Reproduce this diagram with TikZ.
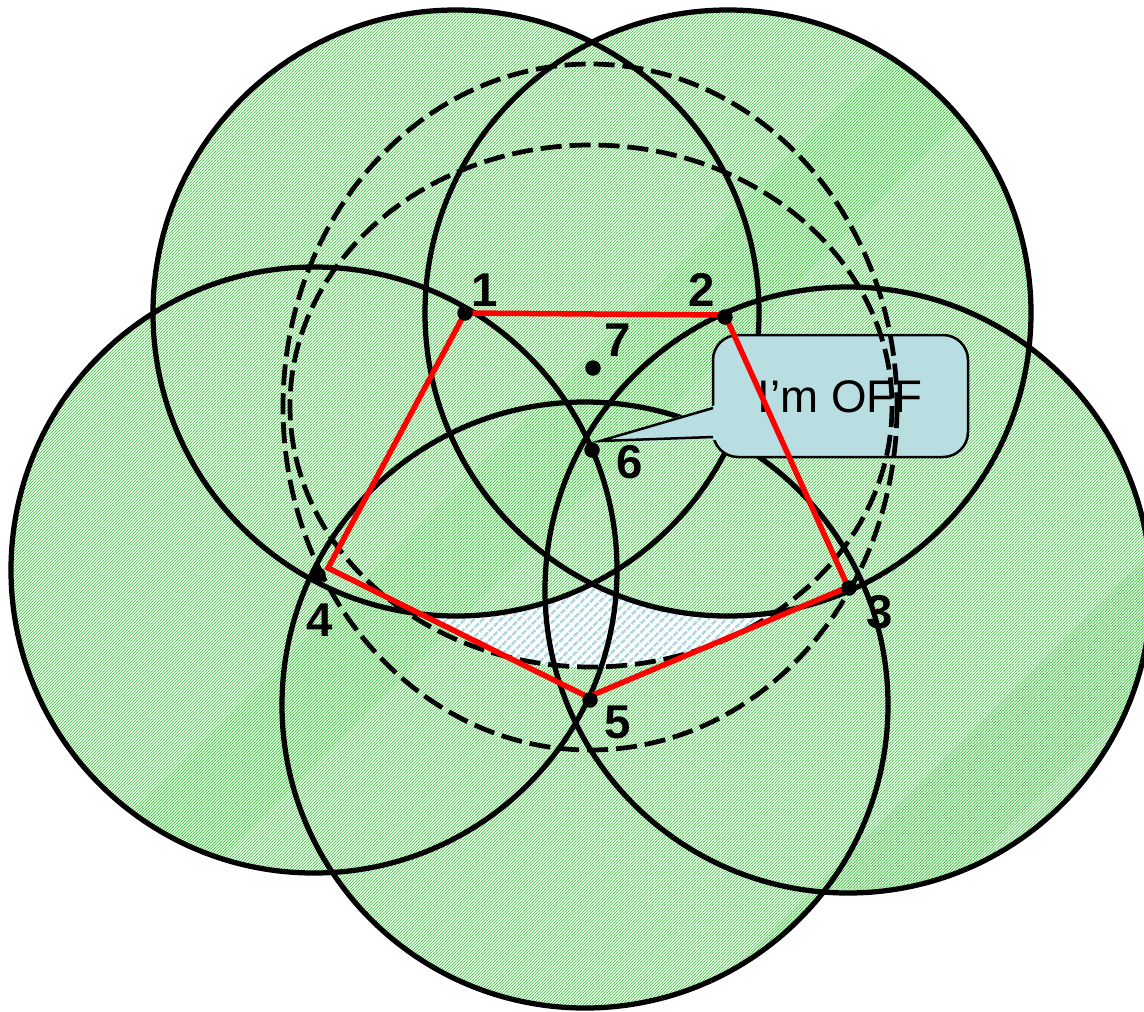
\documentclass[tikz,border=0pt]{standalone}
\usepackage{fontspec}
\setmainfont{Liberation Sans}
\usetikzlibrary{patterns.meta}
\definecolor{hatchgreen}{RGB}{60,202,60}
\definecolor{hatchblue}{RGB}{176,216,226}
\definecolor{calloutblue}{RGB}{184,222,226}
\begin{document}
\begin{tikzpicture}[x=0.02cm,y=-0.02cm,
  greenfill/.style={pattern={Lines[angle=45,distance=1.207pt,line width=0.42pt]},pattern color=hatchgreen},
  bluefill/.style={pattern={Lines[angle=45,distance=3.62pt,line width=1.6pt]},pattern color=hatchblue},
  ring/.style={draw=black,line width=0.105cm},
  dashring/.style={draw=black,line width=0.095cm,dash pattern=on 12pt off 4.5pt},
  redline/.style={draw=red,line width=0.11cm,line join=miter},
  sensor/.style={circle,fill=black,inner sep=0pt,minimum size=0.31cm},
  lbl/.style={font=\fontsize{27}{32}\selectfont\bfseries,inner sep=0pt},
]
\useasboundingbox (0,0) rectangle (1144,1012);
\fill[white] (0,0) rectangle (1144,1012);
\clip (0,0) rectangle (1144,1012);

% circle centres
\coordinate (c1) at (456,313);
\coordinate (c2) at (728,313);
\coordinate (c3) at (848,590);
\coordinate (c4) at (314,570);
\coordinate (c5) at (585,705);
\coordinate (ec) at (591,406);
% red pentagon corners
\coordinate (r1) at (465,313);
\coordinate (r2) at (725,315);
\coordinate (r3) at (848,587);
\coordinate (r4) at (328,568);
\coordinate (r5) at (588,697);

% green hatched coverage discs (union, hatched once)
\path[greenfill] (c1) circle[radius=303] (c2) circle[radius=303]
  (c3) circle[radius=303] (c4) circle[radius=303] (c5) circle[radius=303];

% blue hatched region
\begin{scope}
  \clip (ec) ellipse[x radius=301,y radius=261];
  \clip (r1) -- (r2) -- (r3) -- (r5) -- (r4) -- cycle;
  \fill[white] (c3) circle[radius=303] (c4) circle[radius=303] (c5) circle[radius=303];
  \path[bluefill] (0,0) rectangle (1144,1012);
  \fill[white] (c1) circle[radius=303] (c2) circle[radius=303];
  \path[greenfill] (c1) circle[radius=303] (c2) circle[radius=303];
\end{scope}

% disc borders
\foreach \c in {c1,c2,c3,c4,c5}
  \draw[ring] (\c) circle[radius=303];

% callout
\draw[line width=0.05cm,fill=calloutblue,rounded corners=0.5cm] (713,335) rectangle (968,457);
\fill[calloutblue] (716,405) -- (600,441) -- (716,440) -- cycle;
\draw[line width=0.05cm,line join=miter] (713,408) -- (600,441) -- (713,437);
\node[font=\fontsize{26}{31}\selectfont,inner sep=0pt] (off) at (840,397) {I’m OFF};

% dashed boundaries
\draw[dashring] (590,407) ellipse[x radius=307,y radius=343];
\draw[dashring] (ec) ellipse[x radius=301,y radius=261];

% red polygon
\draw[redline] (r1) -- (r2) -- (r3) -- (r5) -- (r4) -- cycle;

% sensor nodes
\node[sensor] (n1) at (465,313) {};
\node[sensor] (n2) at (725,317) {};
\node[sensor] (n3) at (849,588) {};
\node[sensor] (n4) at (318,575) {};
\node[sensor] (n5) at (590,700) {};
\node[sensor] (n6) at (592,450) {};
\node[sensor] (n7) at (593,368) {};

\node[lbl] (l1) at (485,290) {1};
\node[lbl] (l2) at (702,290) {2};
\node[lbl] (l3) at (880,612) {3};
\node[lbl] (l4) at (320,620) {4};
\node[lbl] (l5) at (618,722) {5};
\node[lbl] (l6) at (630,462) {6};
\node[lbl] (l7) at (618,340) {7};
\end{tikzpicture}
\end{document}
